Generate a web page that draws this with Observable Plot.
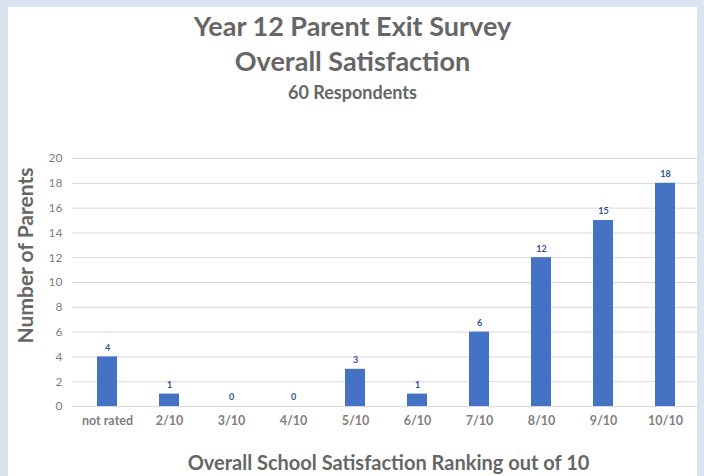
<!DOCTYPE html>
<html>
<head>
<meta charset="utf-8">
<script src="https://cdn.jsdelivr.net/npm/d3@7"></script>
<script src="https://cdn.jsdelivr.net/npm/@observablehq/plot@0.6"></script>
<style>
  html, body { margin: 0; padding: 0; background: #fff; }
  #wrap { position: relative; width: 704px; height: 476px; overflow: hidden; }
  #frame { position: absolute; left: 0; top: 0; width: 704px; height: 490px; box-sizing: border-box;
           border: 7px solid #dae4f1; border-left-width: 8px; pointer-events: none; }
  svg { display: block; font-family: Lato, "Open Sans", sans-serif; }
</style>
</head>
<body>
<div id="wrap"><div id="frame"></div></div>
<script>
const categories = ["not rated", "2/10", "3/10", "4/10", "5/10", "6/10", "7/10", "8/10", "9/10", "10/10"];
const counts = [4, 1, 0, 0, 3, 1, 6, 12, 15, 18];
const yTicks = [0, 2, 4, 6, 8, 10, 12, 14, 16, 18, 20];
const titleLines = ["Year 12 Parent Exit Survey", "Overall Satisfaction", "60 Respondents"];
const xLabel = "Overall School Satisfaction Ranking out of 10";
const yLabel = "Number of Parents";

const data = categories.map((c, i) => ({category: c, count: counts[i]}));
const gray = "#666666";
const blue = "#4472c4";

const chart = Plot.plot({
  width: 704,
  height: 476,
  marginTop: 158,
  marginBottom: 70,
  marginLeft: 72,
  marginRight: 4,
  style: {background: "#fff", color: gray},
  x: {domain: categories, paddingInner: 0.68, paddingOuter: 0.34, label: null, tickSize: 0, tickPadding: 10},
  y: {domain: [0, 20], ticks: yTicks, label: null, tickSize: 0, tickPadding: 10},
  marks: [
    Plot.gridY(yTicks, {stroke: "#d9d9d9", strokeOpacity: 1, strokeWidth: 1}),
    Plot.barY(data, {x: "category", y: "count", fill: blue}),
    Plot.text(data, {x: "category", y: "count", text: d => String(d.count), dy: -9, fill: "#2f5597", fontSize: 9, fontWeight: "bold"}),
    Plot.axisY({ticks: yTicks, tickSize: 0, tickPadding: 10, fontSize: 12, fill: "#7f7f7f", label: null}),
    Plot.axisX({tickSize: 0, tickPadding: 10, fontSize: 12.5, fontWeight: "bold", fill: "#7f7f7f", label: null}),
    Plot.text([titleLines[0]], {frameAnchor: "top", dx: -34, dy: -131, lineAnchor: "middle", fontSize: 27, fontWeight: "bold", fill: gray}),
    Plot.text([titleLines[1]], {frameAnchor: "top", dx: -34, dy: -96, lineAnchor: "middle", fontSize: 27, fontWeight: "bold", fill: gray}),
    Plot.text([titleLines[2]], {frameAnchor: "top", dx: -34, dy: -65, lineAnchor: "middle", fontSize: 18, fontWeight: "bold", fill: gray}),
    Plot.text([xLabel], {frameAnchor: "bottom", dx: 2, dy: 57, lineAnchor: "middle", fontSize: 20, fontWeight: "bold", fill: gray}),
    Plot.text([yLabel], {frameAnchor: "left", dx: -46, dy: -27, rotate: -90, textAnchor: "middle", lineAnchor: "middle", fontSize: 21, fontWeight: "bold", fill: gray})
  ]
});
document.getElementById("wrap").insertBefore(chart, document.getElementById("frame"));
</script>
</body>
</html>
